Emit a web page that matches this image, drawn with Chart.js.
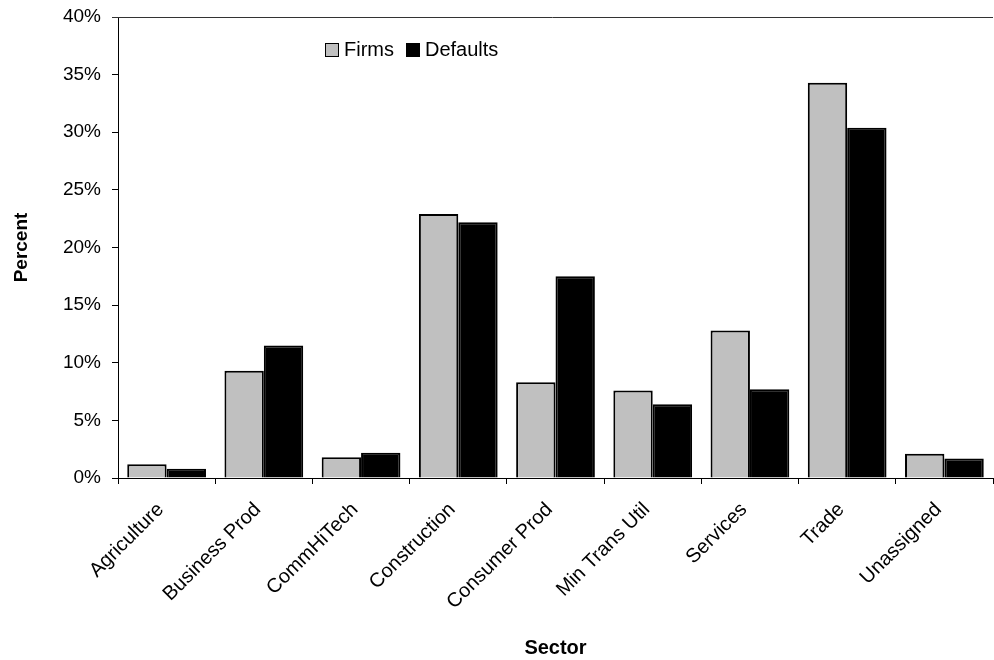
<!DOCTYPE html>
<html>
<head>
<meta charset="utf-8">
<title>Firms and Defaults by Sector</title>
<script src="https://cdn.jsdelivr.net/npm/chart.js@4.4.1/dist/chart.umd.min.js"></script>
<style>
  body { margin: 0; background: #fff; }
  #wrap { position: relative; width: 994px; height: 660px; }
  #legend {
    position: absolute; left: 325px; top: 38px;
    display: flex; align-items: center;
    font: 20px "Liberation Sans", Arial, sans-serif; color: #000;
  }
  #legend .item { display: flex; align-items: center; margin-right: 12px; }
  #legend .box { width: 12px; height: 12px; border: 1.5px solid #000; margin-right: 5px; }
</style>
</head>
<body>
<div id="wrap">
  <canvas id="sectorChart" width="994" height="660"></canvas>
  <div id="legend"></div>
</div>
<script>
// data
const sectors = ["Agriculture", "Business Prod", "CommHiTech", "Construction", "Consumer Prod",
                 "Min Trans Util", "Services", "Trade", "Unassigned"];
const firms    = [1.2, 9.3, 1.8, 22.9, 8.3, 7.6, 12.8, 34.3, 2.1];
const defaults = [0.8, 11.5, 2.2, 22.2, 17.5, 6.4, 7.7, 30.4, 1.7];
const yTicks = [0, 5, 10, 15, 20, 25, 30, 35, 40];

const FONT = "'Liberation Sans', Arial, sans-serif";
Chart.defaults.font.family = FONT;
Chart.defaults.color = "#000";

// top frame line (the reference has one across the plot top)
const topLine = {
  id: "topLine",
  afterDraw(chart) {
    const { ctx, chartArea } = chart;
    ctx.save();
    ctx.strokeStyle = "#333";
    ctx.lineWidth = 1;
    ctx.beginPath();
    ctx.moveTo(chartArea.left - 6, chartArea.top + 0.5);
    ctx.lineTo(chartArea.right, chartArea.top + 0.5);
    ctx.stroke();
    ctx.restore();
  }
};

const ctx = document.getElementById("sectorChart").getContext("2d");
const chart = new Chart(ctx, {
  type: "bar",
  data: {
    labels: sectors,
    datasets: [
      { label: "Firms", data: firms, backgroundColor: "#c0c0c0", borderColor: "#000", borderWidth: 2 },
      { label: "Defaults", data: defaults, backgroundColor: "#000", borderColor: "#000", borderWidth: 2 }
    ]
  },
  options: {
    responsive: false,
    animation: false,
    layout: { padding: { top: 17, right: 1, left: 0, bottom: 0 } },
    datasets: { bar: { categoryPercentage: 0.81, barPercentage: 1.0 } },
    plugins: {
      legend: { display: false },
      tooltip: { enabled: false }
    },
    scales: {
      x: {
        grid: { display: true, drawOnChartArea: false, tickLength: 6, color: "#000", offset: true },
        border: { color: "#000", width: 1 },
        ticks: { font: { size: 20 }, maxRotation: 45, minRotation: 45, padding: 14, labelOffset: -6 },
        title: { display: true, text: "Sector", font: { size: 20, weight: "bold" }, padding: { top: 0, bottom: 0 } },
        afterFit(scale) {
          scale.height = 182;
          scale.paddingLeft = 0;
          scale.paddingRight = 0;
        }
      },
      y: {
        min: 0,
        max: 40,
        afterBuildTicks(scale) { scale.ticks = yTicks.map(v => ({ value: v })); },
        grid: { display: true, drawOnChartArea: false, tickLength: 6, color: "#000" },
        border: { color: "#000", width: 1 },
        ticks: { font: { size: 19 }, padding: 11, callback: v => v + "%" },
        title: { display: true, text: "Percent", font: { size: 19, weight: "bold" }, padding: { top: 10, bottom: 0 } },
        afterFit(scale) {
          scale.width = 118;
          scale.paddingTop = 0;
          scale.paddingBottom = 0;
        }
      }
    }
  },
  plugins: [topLine]
});

// legend drawn as html from the datasets
const legendEl = document.getElementById("legend");
chart.data.datasets.forEach(ds => {
  const item = document.createElement("div");
  item.className = "item";
  item.innerHTML = `<span class="box" style="background:${ds.backgroundColor}"></span>${ds.label}`;
  legendEl.appendChild(item);
});
</script>
</body>
</html>
